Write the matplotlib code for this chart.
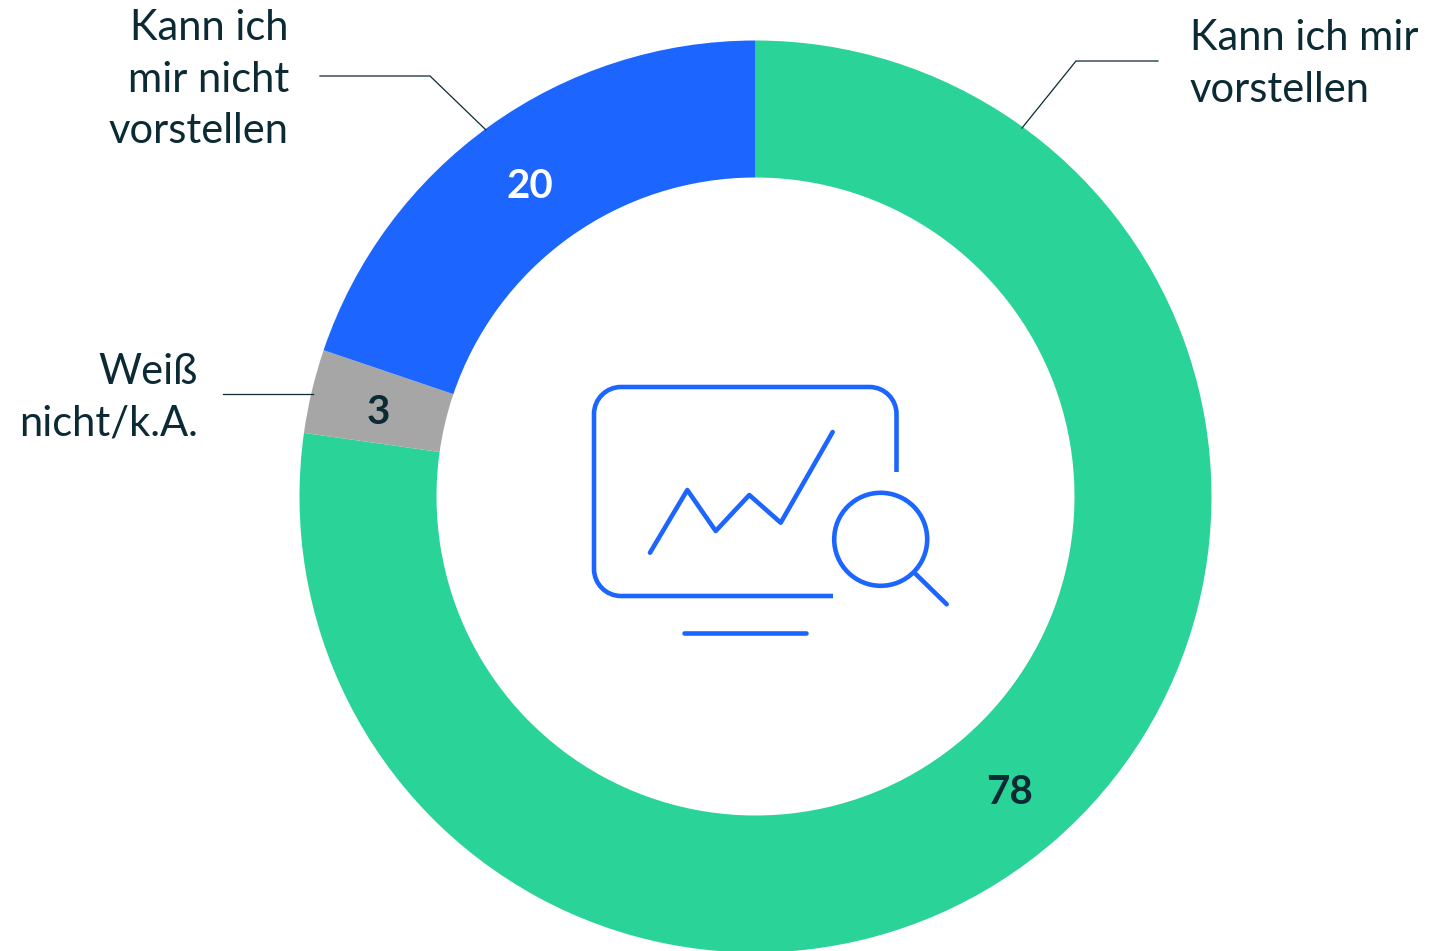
import matplotlib
matplotlib.use("Agg")
import matplotlib.pyplot as plt
from matplotlib.patches import Circle, PathPatch
from matplotlib.path import Path

W, H = 1455, 951
plt.rcParams["font.family"] = ["Lato", "DejaVu Sans"]

values = [78, 3, 20]
colors = ["#2AD398", "#A6A6A6", "#1C66FF"]
value_colors = ["#0B2A33", "#0B2A33", "#FFFFFF"]
value_pos = [(1010, 793), (378, 413), (530, 186)]

labels = ["Kann ich mir\nvorstellen", "Weiß\nnicht/k.A.", "Kann ich\nmir nicht\nvorstellen"]
label_x = [1190, 198, 289]
label_y = [50, 384, 40]      # baseline of first line
label_ha = ["left", "right", "right"]
leaders = [
    [(1022, 128), (1076, 61), (1158, 61)],
    [(223, 394), (313, 394)],
    [(320, 76), (430, 76), (486, 130)],
]

INK = "#0B2A33"
BLUE = "#1C66FF"
LINE_STEP = 51.5

fig = plt.figure(figsize=(W / 100, H / 100), dpi=100)
ax = fig.add_axes([0, 0, 1, 1])

# y axis runs downward, so counterclock here reads clockwise on screen
ax.pie(values, colors=colors, startangle=270, counterclock=True, center=(755.5, 496.5),
       radius=456, wedgeprops={"width": 137, "linewidth": 0}, frame=True)
ax.set_xlim(0, W)
ax.set_ylim(H, 0)
ax.axis("off")

for val, col, (x, y) in zip(values, value_colors, value_pos):
    ax.text(x, y, str(val), color=col, fontsize=29, fontweight="bold", ha="center", va="center")

for text, x, y, ha in zip(labels, label_x, label_y, label_ha):
    for i, line in enumerate(text.split("\n")):
        ax.text(x, y + i * LINE_STEP, line, color=INK, fontsize=30, ha=ha, va="baseline")

for pts in leaders:
    ax.plot(*zip(*pts), color=INK, lw=0.9, solid_joinstyle="miter")

# monitor-and-magnifier icon in the hole
stroke = {"color": BLUE, "lw": 3.3, "solid_capstyle": "round", "solid_joinstyle": "round"}
r, k = 27, 27 * 0.448
screen = Path(
    [(896.5, 472), (896.5, 387 + r), (896.5, 387 + k), (896.5 - k, 387), (896.5 - r, 387),
     (594 + r, 387), (594 + k, 387), (594, 387 + k), (594, 387 + r),
     (594, 596 - r), (594, 596 - k), (594 + k, 596), (594 + r, 596), (833, 596)],
    [Path.MOVETO, Path.LINETO, Path.CURVE4, Path.CURVE4, Path.CURVE4,
     Path.LINETO, Path.CURVE4, Path.CURVE4, Path.CURVE4,
     Path.LINETO, Path.CURVE4, Path.CURVE4, Path.CURVE4, Path.LINETO],
)
ax.add_patch(PathPatch(screen, fill=False, edgecolor=BLUE, lw=3.3, capstyle="butt", joinstyle="round"))
ax.plot([650, 687.3, 715.7, 749.3, 780.7, 832.7], [552.7, 490, 531, 495, 522.7, 432], **stroke)
ax.plot([684.3, 806], [633.3, 633.3], **stroke)
ax.add_patch(Circle((880.7, 539.3), 46.5, fill=False, edgecolor=BLUE, lw=3.3))
ax.plot([915.7, 946.7], [574, 604.3], **stroke)

fig.savefig("out.png", dpi=100, facecolor="white")
